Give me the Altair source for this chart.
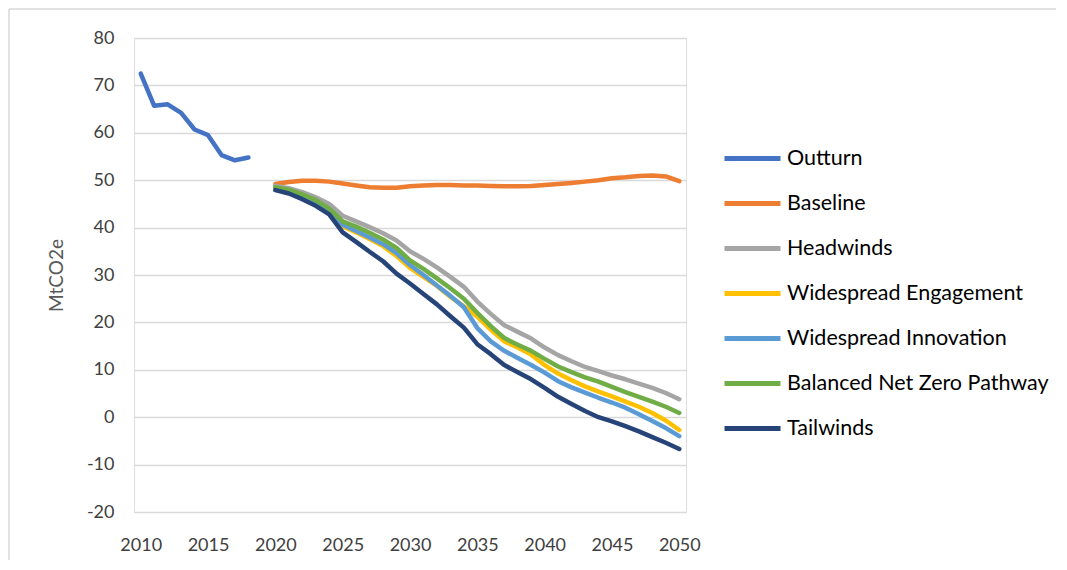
import altair as alt
import pandas as pd

series_names = ["Outturn", "Baseline", "Headwinds", "Widespread Engagement",
                "Widespread Innovation", "Balanced Net Zero Pathway", "Tailwinds"]
series_colors = ["#4472C4", "#ED7D31", "#A5A5A5", "#FFC000", "#5B9BD5", "#70AD47", "#264478"]

outturn_years = list(range(2010, 2019))
outturn = [72.5, 65.7, 66.0, 64.2, 60.7, 59.5, 55.3, 54.2, 54.8]

scen_years = list(range(2020, 2051))
baseline = [49.2, 49.6, 49.9, 49.9, 49.7, 49.3, 48.9, 48.5, 48.4, 48.4,
            48.7, 48.9, 49.0, 49.0, 48.9, 48.9, 48.8, 48.7, 48.7, 48.8,
            49.0, 49.2, 49.4, 49.7, 50.0, 50.4, 50.6, 50.9, 51.0, 50.8, 49.8]
headwinds = [48.8, 48.3, 47.5, 46.4, 45.0, 42.5, 41.3, 40.1, 38.8, 37.3,
             35.0, 33.4, 31.6, 29.6, 27.5, 24.4, 21.8, 19.4, 18.0, 16.6,
             14.7, 13.1, 11.8, 10.6, 9.7, 8.8, 8.0, 7.1, 6.2, 5.1, 3.8]
engagement = [48.4, 47.8, 46.8, 45.5, 43.6, 40.3, 39.0, 37.6, 36.1, 34.0,
              31.5, 29.6, 27.7, 25.4, 23.4, 21.2, 18.5, 16.0, 14.7, 13.2,
              11.0, 9.2, 7.8, 6.5, 5.4, 4.4, 3.3, 2.2, 0.9, -0.7, -2.7]
innovation = [48.4, 47.8, 46.8, 45.5, 43.6, 40.6, 39.3, 37.9, 36.5, 34.6,
              32.1, 30.0, 27.8, 25.6, 23.2, 18.8, 16.0, 14.0, 12.5, 11.0,
              9.4, 7.6, 6.3, 5.2, 4.1, 3.1, 2.0, 0.6, -0.8, -2.3, -4.0]
balanced = [48.5, 48.0, 47.0, 45.8, 44.0, 41.3, 40.2, 38.9, 37.5, 35.7,
            33.1, 31.3, 29.3, 27.2, 25.0, 22.0, 19.2, 16.7, 15.3, 14.0,
            12.3, 10.7, 9.5, 8.4, 7.5, 6.4, 5.3, 4.3, 3.3, 2.2, 0.9]
tailwinds = [47.9, 47.2, 46.0, 44.6, 42.8, 39.0, 37.0, 34.9, 32.9, 30.3,
             28.2, 26.0, 23.8, 21.3, 18.9, 15.4, 13.3, 11.0, 9.5, 8.0,
             6.2, 4.3, 2.8, 1.3, 0.0, -0.9, -1.9, -3.0, -4.2, -5.4, -6.7]

x_ticks = list(range(2010, 2051, 5))
y_ticks = list(range(-20, 81, 10))

rows = []
for y, v in zip(outturn_years, outturn):
    rows.append({"year": y, "value": v, "series": "Outturn"})
for name, vals in zip(series_names[1:], [baseline, headwinds, engagement, innovation, balanced, tailwinds]):
    for y, v in zip(scen_years, vals):
        rows.append({"year": y, "value": v, "series": name})
df = pd.DataFrame(rows)

FONT = "Lato"

color_scale = alt.Scale(domain=series_names, range=series_colors)

layers = []
for i, name in enumerate(series_names):
    enc = dict(
        x=alt.X("year:Q", scale=alt.Scale(domain=[2009.5, 2050.5], nice=False, zero=False),
                axis=alt.Axis(values=x_ticks, format="d", title=None, grid=False, domain=False,
                              ticks=False, labelPadding=24, labelFontSize=18, labelColor="#404040",
                              labelFont=FONT)),
        y=alt.Y("value:Q", scale=alt.Scale(domain=[-20, 80], nice=False),
                axis=alt.Axis(values=y_ticks, title="MtCO2e", grid=True, gridColor="#D9D9D9",
                              gridWidth=1.5, domain=False, ticks=False, labelPadding=20,
                              labelExpr="datum.value + ''",
                              labelFontSize=18, labelColor="#404040", labelFont=FONT,
                              titleFont=FONT, titleFontSize=19, titleFontWeight="normal",
                              titleColor="#595959", titlePadding=20)),
        color=alt.Color("series:N", scale=color_scale, sort=series_names,
                        legend=alt.Legend(title=None, orient="none", legendX=588, legendY=90,
                                          symbolType="stroke", symbolSize=3136, symbolStrokeWidth=5,
                                          labelFontSize=21.5, labelFont=FONT, labelColor="#000000",
                                          rowPadding=4, labelOffset=4, padding=0,
                                          labelLimit=400)) if i == 0 else
              alt.Color("series:N", scale=color_scale, sort=series_names),
    )
    layers.append(
        alt.Chart(df).transform_filter(alt.datum.series == name)
        .mark_line(strokeWidth=4.5, strokeCap="round", strokeJoin="round")
        .encode(**enc)
    )

frame_top = alt.Chart(pd.DataFrame({"a": [0]})).mark_rule(color="#D9D9D9", strokeWidth=1.5).encode(
    x=alt.value(-125), x2=alt.value(1000), y=alt.value(-29))
frame_left = alt.Chart(pd.DataFrame({"a": [0]})).mark_rule(color="#D9D9D9", strokeWidth=1.5).encode(
    x=alt.value(-125), y=alt.value(-29), y2=alt.value(600))

chart = alt.layer(frame_top, frame_left, *layers).properties(
    width=552, height=474,
    autosize=alt.AutoSizeParams(type="none"),
    padding={"left": 126, "top": 30, "right": 370, "bottom": 48},
).configure_view(stroke=None).configure(font=FONT)

chart.save("out.html", embed_options={"renderer": "svg", "actions": False})
